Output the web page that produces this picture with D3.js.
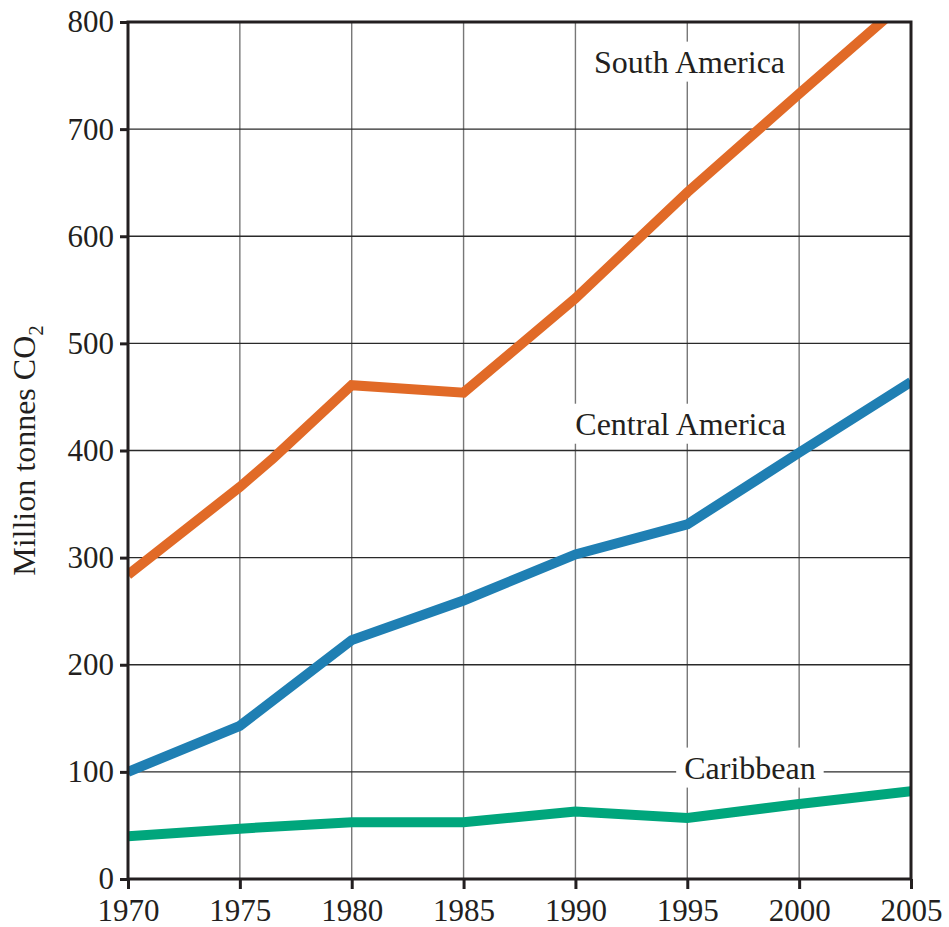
<!DOCTYPE html>
<html>
<head>
<meta charset="utf-8">
<script src="https://cdn.jsdelivr.net/npm/d3@7"></script>
<style>
  body { margin: 0; background: #fff; }
  svg text { font-family: "Liberation Serif", "DejaVu Serif", serif; fill: #231f20; }
</style>
</head>
<body>
<svg id="chart" width="949" height="927"></svg>
<script>
// data
var southYears = [1970, 1975, 1976.5, 1980, 1985, 1990, 1995, 2000, 2005];
var southValues = [284, 366, 393, 461, 454, 542, 641, 733, 824];
var years = [1970, 1975, 1980, 1985, 1990, 1995, 2000, 2005];
var centralValues = [100, 143, 223, 260, 303, 331, 398, 464];
var caribValues = [40, 47, 53, 53, 63, 57, 70, 82];
var xTicks = [1970, 1975, 1980, 1985, 1990, 1995, 2000, 2005];
var yTicks = [0, 100, 200, 300, 400, 500, 600, 700, 800];

var margin = {top: 22, right: 38, bottom: 48, left: 128};
var width = 949 - margin.left - margin.right;
var height = 927 - margin.top - margin.bottom;

var svg = d3.select('svg#chart');
var g = svg.append('g')
  .attr('transform', 'translate(' + margin.left + ',' + margin.top + ')');

var x = d3.scaleLinear().domain([1970, 2005]).range([0, width]);
var y = d3.scaleLinear().domain([0, 800]).range([height, 0]);

// gridlines
g.append('g').selectAll('line.v').data(xTicks.slice(1, -1)).enter().append('line')
  .attr('x1', function(d) { return x(d); }).attr('x2', function(d) { return x(d); })
  .attr('y1', 0).attr('y2', height)
  .attr('stroke', '#777').attr('stroke-width', 1.4);
g.append('g').selectAll('line.h').data(yTicks.slice(1, -1)).enter().append('line')
  .attr('x1', 0).attr('x2', width)
  .attr('y1', function(d) { return y(d); }).attr('y2', function(d) { return y(d); })
  .attr('stroke', '#2a2a2a').attr('stroke-width', 1.4);

// series labels with white boxes that cut the grid
var labels = [
  {text: 'South America', year: 1995.1, value: 763, pad: 6},
  {text: 'Central America', year: 1994.7, value: 425, pad: 6},
  {text: 'Caribbean', year: 1997.8, value: 104, pad: 8}
];
labels.forEach(function(l) {
  var t = g.append('text')
    .attr('x', x(l.year)).attr('y', y(l.value))
    .attr('text-anchor', 'middle')
    .attr('dominant-baseline', 'central')
    .style('font-size', '32px')
    .text(l.text);
  var b = t.node().getBBox();
  g.insert('rect', 'text')
    .attr('x', b.x - l.pad).attr('y', b.y - 2)
    .attr('width', b.width + 2 * l.pad).attr('height', b.height + 4)
    .attr('fill', '#fff');
});

// lines
g.append('clipPath').attr('id', 'plot-clip')
  .append('rect').attr('width', width).attr('height', height);

var line = d3.line()
  .x(function(d) { return x(d[0]); })
  .y(function(d) { return y(d[1]); });

var series = [
  {pts: d3.zip(southYears, southValues), color: '#e16a27'},
  {pts: d3.zip(years, centralValues), color: '#1f7fb3'},
  {pts: d3.zip(years, caribValues), color: '#00a67c'}
];
g.append('g').attr('clip-path', 'url(#plot-clip)')
  .selectAll('path').data(series).enter().append('path')
  .attr('d', function(d) { return line(d.pts); })
  .attr('fill', 'none')
  .attr('stroke', function(d) { return d.color; })
  .attr('stroke-width', 10)
  .attr('stroke-linejoin', 'miter');

// axes
var xAxis = d3.axisBottom(x).tickValues(xTicks).tickFormat(d3.format('d'))
  .tickSizeInner(10).tickSizeOuter(0).tickPadding(10);
var yAxis = d3.axisLeft(y).tickValues(yTicks).tickFormat(d3.format('d'))
  .tickSizeInner(8).tickSizeOuter(0).tickPadding(6);

g.append('g').attr('transform', 'translate(0,' + height + ')').call(xAxis)
  .call(function(s) {
    s.select('.domain').remove();
    s.selectAll('line').attr('stroke', '#231f20').attr('stroke-width', 3);
    s.selectAll('text').style('font-size', '31px').attr('fill', '#231f20');
  });
g.append('g').call(yAxis)
  .call(function(s) {
    s.select('.domain').remove();
    s.selectAll('line').attr('stroke', '#231f20').attr('stroke-width', 3);
    s.selectAll('text').style('font-size', '31px').attr('fill', '#231f20');
  });

// frame
g.append('rect')
  .attr('width', width).attr('height', height)
  .attr('fill', 'none').attr('stroke', '#231f20').attr('stroke-width', 3);

// y title
var title = svg.append('text')
  .attr('transform', 'translate(35,' + (margin.top + y(400)) + ') rotate(-90)')
  .attr('text-anchor', 'middle')
  .style('font-size', '32px');
title.append('tspan').text('Million tonnes CO');
title.append('tspan').attr('dy', 8).style('font-size', '21px').text('2');
</script>
</body>
</html>
